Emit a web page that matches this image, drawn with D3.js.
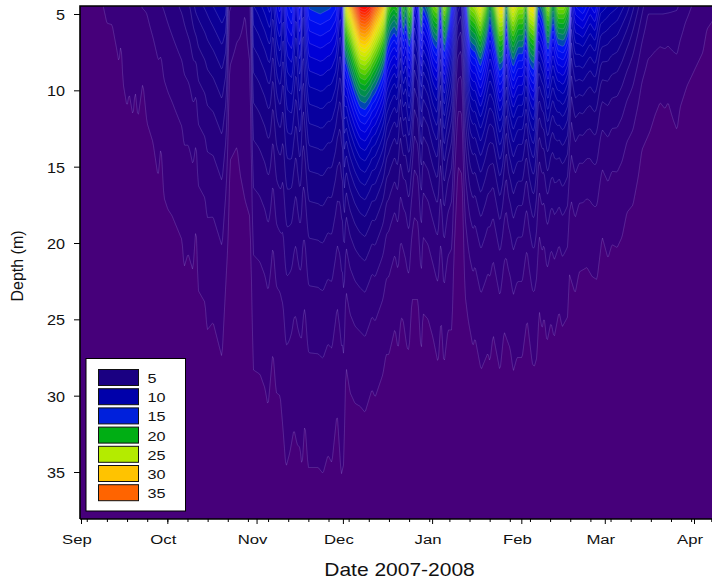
<!DOCTYPE html>
<html><head><meta charset="utf-8">
<style>html,body{margin:0;padding:0;background:#fff}svg{display:block}text{font-family:"Liberation Sans",Arial,sans-serif;fill:#111}</style>
<script src="https://cdn.jsdelivr.net/npm/d3@7"></script></head><body>
<script>
// Values. Days are counted from 1 Sep 2007.
// Value at the 5 m line, per day:
const surfaceDays = [0,6.6,8.3,15.3,22.9,29.2,35.1,37.9,40,43.1,46.6,49,50.4,51.4,54.2,57,58.7,59.1,59.8,61.5,63.9,65.7,66.7,68.1,69.2,70.2,71.6,73.3,74.7,76.1,77.1,78.2,79.2,83.1,86.5,88.6,90,91,91.7,92.8,93.8,95.6,97,98.7,100.4,102.2,103.9,105.3,106.3,107.4,108.8,109.8,110.9,111.9,112.9,114,115,115.7,117.1,118.2,118.8,120.6,122.3,123.7,124.8,126.1,127.5,129.3,130.7,132.1,133.4,135.2,136.9,138.7,140.4,142.1,143.9,145.3,146.6,147.7,148.7,150.1,151.9,153.6,154.6,155.7,157.4,158.8,160.5,162.3,164,165.8,167.8,169.6,170.3,171.7,174.4,176.9,178.6,180.4,183.8,186.3,189.7,193.2,195.3,197,202.2,207.1,209.9,215.1,219.6];
const surfaceValues = [0.7,0.85,1,1.5,2,3,4,4.8,6,6.8,7.8,8.5,8,3,2.4,2,2.5,4,8.5,9,10,11,9,12,13,10,14,15,11,15,9.5,13,15.5,16,15.5,14.5,11,13,24,27,29,34,38,38.5,37,33,30,27,22,20,19,20,14,20,17,22,20,11,13,20,15,17,21,22,14,23,19,13,7,6,12,22,23,26,22,17,22,27,27,16,23,26,23,23,19,26,27,15,17,23,17,22,22,19,10,13,14,12,13,10,9,8.5,7,5,3.8,3,3,2.9,2.2,1.4,1.1];
// Depth (m) of the outermost contour (level 1), per day:
const outerDays = [0,8.3,9,10.8,12.5,13.2,13.9,14.6,16,16.7,18.1,18.8,19.8,21.5,22.9,25,26.8,27.8,28.8,30.2,31.6,35.1,35.8,37.2,38.9,40,40.7,43.1,43.8,45.9,49,51.1,51.8,54.2,55.3,57,58.7,59.4,59.8,62.2,63.9,65,66.7,67.8,69.2,70.2,71.2,72.6,74,75.1,76.1,76.8,77.8,78.9,81.3,82.4,84.1,85.8,87.2,89,90.4,91.4,91.7,92.1,93.5,95.2,97,98.7,101.1,102.2,104.9,106,107,109.1,110.2,111.2,111.9,113.3,114,115,117.1,118.2,118.8,120.6,122.3,124.1,125.1,126.1,127.5,128.9,129.6,131,132.4,133.4,134.5,136.2,136.9,139,141.4,142.1,143.2,145.6,147,149.1,150.2,151.5,153.3,155,156.8,157.5,158.4,159.2,160.2,160.9,161.9,163.3,164.4,166.1,167.2,169.2,169.6,171.7,173.1,175.8,177.6,179.3,181.1,183.1,184.5,186.3,188,189.7,191.8,193.6,194.9,197.7,199.5,201.2,202.9,204,205.7,207.1,208.2,210.6,214.1,216.1,217.5,219.6];
const outerDepths = [4.5,5,5.6,5.7,7.4,8.2,6.9,9.5,11.1,10.2,11.7,10,11.8,9.5,12.1,13.4,15.7,13.6,17,17.8,18.2,19.8,21.6,20.7,21.8,18.8,23.1,23.9,25.7,25.2,27.5,19.8,14.6,13.7,15.5,17.2,18.3,23.7,28.3,28.6,29.5,30.7,27.1,29.8,30,32.2,34.7,33.7,32.2,33.2,33.4,34.7,31.7,34.7,34.7,34.7,35.1,33.9,34.4,31.1,35.2,34.4,30.3,28.1,29.8,30.5,30.7,31.1,29.6,30.1,28.6,27.3,27.3,25.6,27,24.9,25,26.9,27,23.7,23.7,27.3,24.6,25,26.2,27.9,24.9,28,25.7,25.7,20.7,15,15.5,23.3,25,26.8,26.2,28.3,27.2,27.8,26,28.4,25.8,26.9,28.4,27.5,27.5,25,27.9,28.1,27.5,24.4,25.7,24.8,26.5,25.2,26.2,24.5,25.5,24.8,22,23.3,21.9,21.6,22.2,22.4,19.6,21,20.1,20.3,19.6,18,17.5,15.7,13.9,12.7,11.6,10.8,11.2,10.8,11.9,12.6,11.1,9.7,8.3,7.5,6,5.4];

const contourLevels = d3.range(1, 41);
const rampValues = [0,5,10,13,15.5,17.5,20,22.5,25,28,30,35,40];
const rampColors = ["#46007a","#1a0082","#0000aa","#0000e0","#0014f5","#007a70","#00ad14","#5fd000","#b4eb00","#f5e600","#ffc300","#ff6400","#ff1400"];
const legendLevels = [5,10,15,20,25,30,35];
const legendColors = ["#1a0082","#0000aa","#0020dc","#00ae14","#b4eb00","#ffc300","#ff6400"];
const depthTicks = [5,10,15,20,25,30,35];
const monthNames = ["Sep","Oct","Nov","Dec","Jan","Feb","Mar","Apr"];
const axisTitleX = "Date 2007-2008";
const axisTitleY = "Depth (m)";

const W = 712, H = 582;
const plot = {left:80, right:713, top:6, bottom:519};

const day0 = Date.UTC(2007,8,1), dayMs = 864e5;
const x = d3.scaleUtc().domain([new Date(day0), new Date(Date.UTC(2008,3,1))]).range([81,694]);
const y = d3.scaleLinear().domain([5,35]).range([14,472]);
const dayAtX = px => (x.invert(px) - day0) / dayMs;

const surfaceAt = d3.scaleLinear().domain(surfaceDays).range(surfaceValues).clamp(true);
const outerAt = d3.scaleLinear().domain(outerDays).range(outerDepths).clamp(true);
const color = d3.scaleLinear().domain(rampValues).range(rampColors);

// The profile between the 5 m reading and the level-1 depth is log-linear,
// which is how the repeated contour shapes in the picture behave.
const gw = plot.right - plot.left, gh = plot.bottom - plot.top;
const field = new Float64Array(gw * gh);
for (let i = 0; i < gw; i++) {
  const d = dayAtX(plot.left + i + 0.5);
  const s = surfaceAt(d), o = outerAt(d);
  const k = (s > 1.01 && o > 5.05) ? Math.log(s) / (o - 5) : 0.1;
  for (let j = 0; j < gh; j++) {
    const z = y.invert(plot.top + j + 0.5);
    field[j * gw + i] = s * Math.exp(-k * (z - 5));
  }
}

const svg = d3.select("body").append("svg").attr("width", W).attr("height", H);
svg.append("defs").append("clipPath").attr("id","plotClip").append("rect")
  .attr("x",plot.left).attr("y",plot.top).attr("width",W-plot.left).attr("height",gh);
const g = svg.append("g").attr("clip-path","url(#plotClip)");
g.append("rect").attr("x",plot.left).attr("y",plot.top).attr("width",W-plot.left).attr("height",gh).attr("fill",rampColors[0]);

const contours = d3.contours().size([gw, gh]).thresholds(contourLevels)(field);
const path = d3.geoPath(d3.geoIdentity().translate([plot.left, plot.top]));
g.selectAll("path.band").data(contours).join("path").attr("class","band")
  .attr("d", path).attr("fill", d => color(d.value + 0.5)).attr("stroke", d => color(d.value + 0.5)).attr("stroke-width",0.3);
g.selectAll("path.line").data(contours).join("path").attr("class","line")
  .attr("d", path).attr("fill","none").attr("stroke","#c8b8ff").attr("stroke-opacity",0.3).attr("stroke-width",0.7);

// frame
svg.append("path").attr("d",`M${plot.left},${plot.bottom}V${plot.top}H${W}`).attr("fill","none").attr("stroke","#000").attr("stroke-width",1.6);

// axes
const stretch = (sel, sx, dx, dy) => sel.each(function(){
  d3.select(this).attr("x",null).attr("y",null).attr("dy",null).attr("transform",`translate(${dx},${dy}) scale(${sx},1)`);
});
const minor = svg.append("g").attr("transform",`translate(0,${plot.bottom})`)
  .call(d3.axisBottom(x).tickValues(d3.utcMonday.range(new Date(day0), new Date(Date.UTC(2008,3,10)))).tickSize(3).tickFormat(""));
minor.select(".domain").remove();
minor.selectAll(".tick").filter(d => x(d) > W).remove();
const major = svg.append("g").attr("transform",`translate(0,${plot.bottom})`)
  .call(d3.axisBottom(x).tickValues(d3.utcMonth.range(new Date(day0), new Date(Date.UTC(2008,3,2)))).tickSize(5).tickFormat((d,i)=>monthNames[i]));
major.select(".domain").remove();
major.selectAll("text").style("font-size","13.5px").call(stretch,1.24,-4.5,25);
svg.append("line").attr("x1",plot.left).attr("x2",W).attr("y1",plot.bottom).attr("y2",plot.bottom).attr("stroke","#000").attr("stroke-width",1.4);

const left = svg.append("g").attr("transform",`translate(${plot.left},0)`)
  .call(d3.axisLeft(y).tickValues(depthTicks).tickSize(6).tickPadding(0));
left.select(".domain").remove();
left.selectAll("text").style("font-size","15px").call(stretch,1.08,-15,5.5);

svg.append("text").attr("transform","translate(399.5,576) scale(1.2,1)").attr("text-anchor","middle").style("font-size","17.5px").text(axisTitleX);
svg.append("text").attr("transform","translate(23,266) rotate(-90)").attr("text-anchor","middle").style("font-size","16px").text(axisTitleY);

// legend
const lg = svg.append("g");
lg.append("rect").attr("x",86).attr("y",358.5).attr("width",99.5).attr("height",152.5).attr("fill","#fff").attr("stroke","#000").attr("stroke-width",1);
const row = d3.scaleBand().domain(legendLevels).range([369.5,369.5+19.2*7]);
const items = lg.selectAll("g").data(legendLevels).join("g").attr("transform",d=>`translate(98.5,${row(d)})`);
items.append("rect").attr("width",40).attr("height",16).attr("fill",(d,i)=>legendColors[i]).attr("stroke","#111").attr("stroke-width",1);
items.append("text").attr("transform","translate(49,13.5) scale(1.2,1)").style("font-size","13.5px").text(d=>d);
</script></body></html>
